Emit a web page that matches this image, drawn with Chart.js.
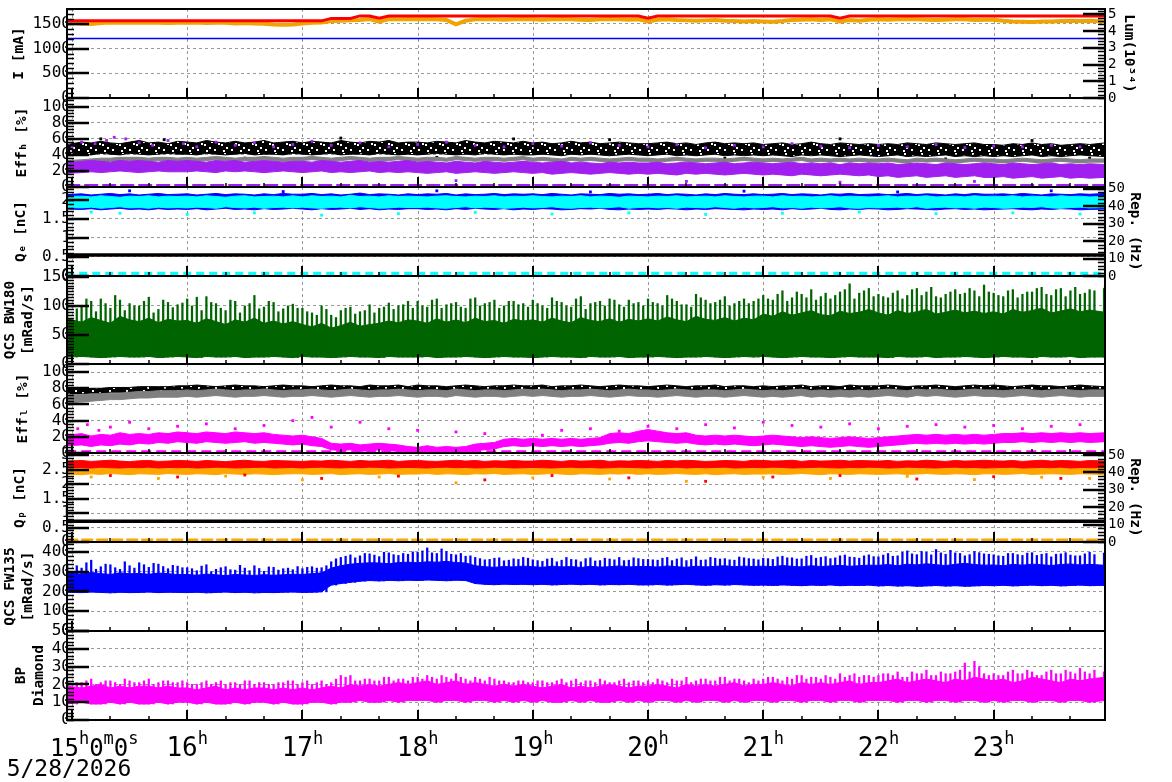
<!DOCTYPE html>
<html>
<head>
<meta charset="utf-8">
<title>Accelerator monitor 5/28/2026</title>
<script src="https://cdn.jsdelivr.net/npm/chart.js@4.4.1/dist/chart.umd.min.js"></script>
<style>
html,body{margin:0;padding:0;background:#ffffff;}
#page{position:relative;width:1172px;height:782px;overflow:hidden;background:#ffffff;}
#page canvas{position:absolute;left:0;}
</style>
</head>
<body>
<div id="page"></div>
<script>
// ---------------- time axis (minutes after 15:00) ----------------
const bins = [-2.5,5,10,15,20,25,30,35,40,45,50,55,
  60,65,70,75,80,85,90,95,100,105,110,115,
  120,125,130,135,140,145,150,155,160,165,170,175,
  180,185,190,195,200,205,210,215,220,225,230,235,
  240,245,250,255,260,265,270,275,280,285,290,295,
  300,305,310,315,320,325,330,335,340,345,350,355,
  360,365,370,375,380,385,390,395,400,405,410,415,
  420,425,430,435,440,445,450,455,460,465,470,475,
  480,485,490,495,500,505,510,515,520,525,530,538];
const binsHalf = [2.5,7.5,12.5,17.5,22.5,27.5,32.5,37.5,42.5,47.5,52.5,57.5,
  62.5,67.5,72.5,77.5,82.5,87.5,92.5,97.5,102.5,107.5,112.5,117.5,
  122.5,127.5,132.5,137.5,142.5,147.5,152.5,157.5,162.5,167.5,172.5,177.5,
  182.5,187.5,192.5,197.5,202.5,207.5,212.5,217.5,222.5,227.5,232.5,237.5,
  242.5,247.5,252.5,257.5,262.5,267.5,272.5,277.5,282.5,287.5,292.5,297.5,
  302.5,307.5,312.5,317.5,322.5,327.5,332.5,337.5,342.5,347.5,352.5,357.5,
  362.5,367.5,372.5,377.5,382.5,387.5,392.5,397.5,402.5,407.5,412.5,417.5,
  422.5,427.5,432.5,437.5,442.5,447.5,452.5,457.5,462.5,467.5,472.5,477.5,
  482.5,487.5,492.5,497.5,502.5,507.5,512.5,517.5,522.5,527.5,532.5,537.5];
const flatTimes = [-3,60,120,180,240,300,360,420,480,540];
const hourMarks = [0,60,120,180,240,300,360,420,480];
const hourLabels = ['15h0m0s','16h','17h','18h','19h','20h','21h','22h','23h'];
const dateLabel = '5/28/2026';

// ---------------- tick values ----------------
const iTicks = [0,500,1000,1500];
const lumTicks = [0,1,2,3,4,5];
const effTicks = [0,20,40,60,80,100];
const qeTicks = [0,0.5,1,1.5,2];
const repTicks = [0,10,20,30,40,50];
const bwTicks = [0,50,100,150];
const qpTicks = [0,0.5,1,1.5,2,2.5,3];
const fwTicks = [0,100,200,300,400];
const bpTicks = [0,10,20,30,40,50];

// ---------------- panel 1 : currents & luminosity ----------------
const lerCurrent = [1560,1560,1560,1560,1560,1560,1560,1560,1560,1560,1560,1560,
  1560,1560,1560,1560,1560,1560,1560,1560,1560,1560,1560,1560,
  1560,1560,1560,1610,1610,1610,1660,1660,1612,1660,1660,1660,
  1660,1660,1660,1660,1660,1660,1660,1660,1660,1660,1660,1660,
  1660,1660,1660,1660,1660,1660,1660,1660,1660,1660,1660,1660,
  1615,1660,1660,1660,1660,1660,1660,1660,1660,1660,1660,1660,
  1660,1660,1660,1660,1660,1660,1660,1660,1615,1660,1660,1660,
  1660,1660,1660,1660,1660,1660,1660,1660,1660,1660,1660,1660,
  1660,1660,1660,1660,1660,1660,1660,1660,1660,1660,1660,1660];
const herCurrent = [1205,1205,1205,1205,1205,1205,1205,1205,1205,1205];
const luminosity = [4.50,4.44,4.42,4.48,4.52,4.50,4.50,4.52,4.50,4.50,4.48,4.50,
  4.50,4.52,4.48,4.50,4.50,4.46,4.48,4.46,4.44,4.40,4.38,4.40,
  4.46,4.50,4.52,4.60,4.62,4.64,4.66,4.72,4.56,4.72,4.70,4.72,
  4.70,4.72,4.70,4.66,4.40,4.62,4.70,4.72,4.70,4.68,4.70,4.72,
  4.70,4.68,4.70,4.72,4.70,4.68,4.66,4.70,4.72,4.70,4.68,4.70,
  4.58,4.68,4.70,4.66,4.64,4.62,4.64,4.66,4.62,4.60,4.58,4.60,
  4.58,4.56,4.60,4.66,4.68,4.70,4.66,4.70,4.58,4.66,4.62,4.68,
  4.70,4.68,4.70,4.72,4.70,4.68,4.66,4.68,4.70,4.70,4.66,4.68,
  4.68,4.62,4.58,4.56,4.55,4.58,4.58,4.60,4.62,4.60,4.62,4.58];

// ---------------- panel 2 : Eff_H ----------------
const effHBlackLo = [39,41,40,42,41,40,42,41,40,41,42,41,
  41,40,42,41,40,41,42,40,41,41,40,42,
  41,40,41,42,40,41,41,40,42,41,40,41,
  40,41,42,41,40,41,40,42,41,40,41,40,
  40,41,40,39,41,40,41,40,39,40,41,40,
  39,40,41,39,40,39,40,41,39,40,39,40,
  39,40,39,38,40,39,40,39,38,39,40,39,
  38,39,40,38,39,38,39,40,38,39,38,39,
  38,39,38,39,40,38,39,38,39,40,39,38];
const effHBlackHi = [53,56,55,57,55,54,56,58,55,56,54,57,
  56,55,58,56,55,57,55,56,58,55,56,57,
  55,57,56,55,58,56,55,57,56,58,55,56,
  56,55,57,56,55,58,56,55,57,56,55,57,
  55,56,54,55,57,55,56,54,55,56,55,54,
  54,55,56,54,55,53,55,56,54,55,54,55,
  53,54,55,53,54,56,54,53,55,54,53,54,
  53,54,53,55,54,53,55,54,53,54,55,53,
  53,52,54,53,55,53,54,52,53,54,53,55];
const effHGrayLo = [27,29,30,31,32,32,33,33,32,33,33,32,
  33,32,33,34,33,32,33,33,34,33,32,33,
  33,34,33,32,33,34,33,32,33,33,34,33,
  32,33,33,32,34,33,32,33,33,32,33,34,
  32,33,32,31,33,32,33,32,31,32,33,32,
  32,31,32,33,32,31,32,32,31,32,33,32,
  31,32,31,32,33,31,32,31,32,31,32,31,
  31,32,31,30,32,31,32,31,30,31,32,31,
  31,30,31,32,31,30,31,32,31,30,31,31];
const effHGrayHi = [33,34,35,36,36,37,37,37,36,37,37,36,
  37,36,37,38,37,36,37,37,38,37,36,37,
  37,38,37,36,37,38,37,36,37,37,38,37,
  36,37,37,36,38,37,36,37,37,36,37,38,
  36,37,36,35,37,36,37,36,35,36,37,36,
  36,35,36,37,36,35,36,36,35,36,37,36,
  35,36,35,36,37,35,36,35,36,35,36,35,
  35,36,35,34,36,35,36,35,34,35,36,35,
  35,34,35,36,35,34,35,36,35,34,35,35];
const effHPurpleLo = [17,18,19,18,19,20,19,18,19,20,19,19,
  19,20,19,18,20,19,20,19,18,19,20,19,
  18,19,20,18,19,18,19,20,18,19,18,19,
  18,17,18,19,17,18,19,18,17,18,19,18,
  17,18,16,17,18,17,16,17,18,17,16,17,
  16,17,16,15,17,16,17,16,15,16,17,16,
  15,16,15,14,16,15,14,15,16,15,14,15,
  13,14,12,13,14,12,13,14,12,13,14,12,
  12,13,11,12,13,11,12,13,11,12,11,12];
const effHPurpleHi = [30,32,33,32,31,33,32,33,32,31,33,32,
  33,32,31,33,32,33,31,32,33,32,31,32,
  32,31,33,32,31,32,33,31,32,31,32,33,
  31,32,31,30,32,31,30,32,31,30,31,32,
  31,30,31,32,30,31,30,29,31,30,31,30,
  30,31,29,30,31,30,29,30,31,29,30,31,
  30,29,30,31,29,30,29,30,28,30,29,30,
  29,30,28,29,30,29,28,30,29,28,29,30,
  29,28,30,29,28,29,30,28,29,28,29,28];
const effHPurpleOutT = [0,5,12,18,22,28,35,42,50,58,65,75,85,95,105,115,125,135,150,165,180,195,210,225,240,255,270,285,300,315,330,345,360,375,390,405,420,435,450,465,480,495,510,525,200,320,400,470];
const effHPurpleOutV = [50,56,54,58,62,60,55,52,58,54,50,56,52,55,50,53,57,52,55,50,53,56,52,50,54,51,55,52,50,53,49,52,50,54,51,49,52,50,53,49,51,50,52,50,8,7,6,7];
const effHBlackOutT = [15,48,90,140,190,230,280,340,400,455,500,530];
const effHBlackOutV = [60,59,36,61,37,60,59,36,60,35,58,36];
const effHZero = [1.8,1.8,1.8,1.8,1.8,1.8,1.8,1.8,1.8,1.8];

// ---------------- panel 3 : Q_e & rep ----------------
const qeBlueLo = [1.76,1.75,1.77,1.74,1.76,1.78,1.75,1.76,1.74,1.77,1.75,1.76,
  1.75,1.77,1.74,1.76,1.78,1.75,1.76,1.74,1.77,1.75,1.76,1.78,
  1.76,1.74,1.77,1.75,1.76,1.78,1.75,1.77,1.74,1.76,1.75,1.77,
  1.77,1.75,1.76,1.74,1.77,1.75,1.78,1.76,1.75,1.77,1.74,1.76,
  1.75,1.77,1.76,1.74,1.75,1.77,1.76,1.78,1.75,1.74,1.76,1.75,
  1.76,1.75,1.77,1.76,1.74,1.76,1.75,1.77,1.76,1.75,1.74,1.76,
  1.75,1.76,1.74,1.77,1.75,1.76,1.78,1.75,1.74,1.76,1.75,1.77,
  1.76,1.74,1.75,1.77,1.76,1.75,1.74,1.76,1.77,1.75,1.76,1.74,
  1.75,1.76,1.77,1.75,1.74,1.76,1.75,1.77,1.76,1.74,1.75,1.76];
const qeBlueHi = [2.14,2.16,2.13,2.15,2.17,2.14,2.16,2.13,2.15,2.17,2.14,2.15,
  2.16,2.13,2.15,2.17,2.14,2.16,2.15,2.13,2.16,2.14,2.17,2.15,
  2.15,2.17,2.14,2.16,2.13,2.15,2.18,2.14,2.16,2.15,2.13,2.16,
  2.14,2.16,2.15,2.17,2.13,2.16,2.14,2.15,2.17,2.14,2.16,2.15,
  2.16,2.14,2.17,2.15,2.13,2.16,2.15,2.14,2.17,2.15,2.16,2.14,
  2.15,2.17,2.14,2.16,2.15,2.13,2.16,2.14,2.17,2.15,2.14,2.16,
  2.14,2.15,2.17,2.14,2.16,2.15,2.13,2.16,2.15,2.17,2.14,2.15,
  2.16,2.14,2.15,2.17,2.14,2.16,2.15,2.13,2.16,2.14,2.17,2.15,
  2.15,2.16,2.14,2.17,2.15,2.13,2.16,2.15,2.14,2.16,2.15,2.17];
const qeCyanLo = [1.80,1.79,1.81,1.78,1.80,1.82,1.79,1.80,1.78,1.81,1.79,1.80,
  1.79,1.81,1.80,1.78,1.82,1.80,1.79,1.81,1.78,1.80,1.81,1.79,
  1.81,1.79,1.78,1.80,1.81,1.79,1.82,1.80,1.78,1.79,1.81,1.80,
  1.80,1.81,1.79,1.78,1.80,1.82,1.79,1.81,1.80,1.78,1.79,1.81,
  1.79,1.80,1.82,1.79,1.78,1.80,1.81,1.79,1.80,1.82,1.78,1.80,
  1.81,1.79,1.80,1.78,1.81,1.80,1.79,1.82,1.80,1.78,1.81,1.79,
  1.80,1.82,1.79,1.80,1.78,1.81,1.79,1.80,1.82,1.79,1.78,1.80,
  1.79,1.80,1.81,1.79,1.82,1.78,1.80,1.81,1.79,1.80,1.78,1.81,
  1.80,1.78,1.79,1.81,1.80,1.82,1.79,1.78,1.80,1.81,1.79,1.80];
const qeCyanHi = [2.09,2.10,2.08,2.11,2.09,2.07,2.10,2.09,2.11,2.08,2.10,2.09,
  2.10,2.08,2.11,2.09,2.07,2.10,2.11,2.08,2.09,2.10,2.08,2.11,
  2.08,2.11,2.09,2.10,2.08,2.12,2.09,2.10,2.08,2.11,2.09,2.10,
  2.09,2.08,2.10,2.11,2.09,2.08,2.10,2.09,2.11,2.08,2.10,2.09,
  2.11,2.09,2.08,2.10,2.09,2.11,2.08,2.10,2.09,2.07,2.10,2.09,
  2.08,2.10,2.09,2.11,2.08,2.09,2.10,2.08,2.11,2.09,2.08,2.10,
  2.10,2.08,2.11,2.09,2.10,2.08,2.09,2.11,2.08,2.10,2.09,2.08,
  2.09,2.11,2.08,2.10,2.09,2.11,2.08,2.09,2.10,2.08,2.11,2.09,
  2.10,2.09,2.11,2.08,2.10,2.09,2.08,2.11,2.09,2.10,2.08,2.09];
const qeCyanOutT = [10,25,60,95,130,170,210,250,290,330,370,410,450,490,525];
const qeCyanOutV = [1.68,1.65,1.62,1.66,1.60,1.64,1.67,1.63,1.66,1.62,1.65,1.68,1.64,1.66,1.63];
const qeBlueOutT = [30,110,190,270,350,430,510];
const qeBlueOutV = [2.24,2.22,2.24,2.21,2.23,2.21,2.24];
const repE = [12,12,12,12,12,12,12,12,12,12];
const repECyan = [1.5,1.5,1.5,1.5,1.5,1.5,1.5,1.5,1.5,1.5];

// ---------------- panel 4 : QCS BW180 ----------------
const bwLo = [12,13,12,11,12,13,12,12,13,11,12,13,
  12,11,13,12,12,13,11,12,12,13,12,11,
  13,12,12,11,12,13,12,12,11,13,12,12,
  12,13,11,12,12,13,12,11,12,13,12,12,
  11,12,13,12,12,11,13,12,12,13,11,12,
  12,13,12,11,12,12,13,12,11,12,13,12,
  13,12,11,12,13,12,12,11,12,13,12,12,
  12,11,13,12,12,13,11,12,12,13,12,11,
  12,13,12,12,11,13,12,12,13,11,12,12];
const bwMid = [78,72,80,75,70,82,76,73,79,71,77,74,
  75,70,78,73,68,76,72,79,70,74,69,73,
  68,64,70,62,66,72,65,68,70,74,71,76,
  74,70,78,72,76,71,79,73,75,70,77,74,
  76,72,79,74,71,80,75,73,78,72,77,74,
  78,74,81,76,73,82,77,75,80,74,79,76,
  86,82,90,84,88,92,85,83,91,87,89,94,
  88,84,92,87,90,94,86,89,93,88,91,87,
  90,86,94,89,92,96,88,91,95,90,93,89];
const bwHi = [121,98,108,112,96,110,104,100,115,94,106,102,
  112,115,116,104,92,108,100,118,98,106,95,103,
  96,88,100,84,92,98,90,102,96,105,100,108,
  108,98,112,102,106,96,114,104,110,100,108,104,
  110,100,114,106,98,116,104,108,112,102,110,106,
  112,104,118,108,102,120,110,106,116,104,112,108,
  118,110,126,114,120,128,116,112,124,138,122,130,
  120,114,126,118,130,124,116,120,128,122,126,136,
  122,116,128,120,124,132,118,130,126,120,128,135];
const bwHiB = [95,112,90,104,118,92,100,108,88,110,97,105,
  100,92,106,96,110,88,104,95,108,90,100,96,
  90,84,94,80,96,86,92,88,98,94,102,96,
  100,110,96,104,98,112,100,106,96,108,102,98,
  104,96,108,100,112,94,106,100,110,98,104,100,
  106,100,112,102,98,114,104,110,100,108,104,112,
  112,120,108,124,114,110,122,118,128,112,126,116,
  116,122,112,128,118,132,114,124,120,130,116,124,
  118,126,114,124,130,120,128,116,132,122,126,130];

// ---------------- panel 5 : Eff_L ----------------
const effLBlackLo = [73,73,74,74,75,75,75,76,76,76,76,76,
  76,77,76,75,76,77,76,76,75,76,77,76,
  76,75,76,77,76,76,75,77,76,76,77,75,
  77,76,76,75,76,77,76,75,76,76,77,76,
  76,77,75,76,76,77,76,75,76,77,76,76,
  75,76,77,76,75,76,76,77,75,76,76,75,
  76,75,76,76,77,75,76,76,75,77,76,76,
  76,77,76,75,76,76,77,76,75,76,77,76,
  77,76,75,76,77,76,76,75,76,77,76,75];
const effLBlackHi = [79,79,80,80,81,81,81,82,82,82,82,83,
  83,84,83,82,83,84,83,83,82,83,84,83,
  83,82,83,84,83,83,82,84,83,83,84,82,
  84,83,83,82,83,84,83,82,83,83,84,83,
  83,84,82,83,83,84,83,82,83,84,83,83,
  82,83,84,83,82,83,83,84,82,83,83,82,
  83,82,83,83,84,82,83,83,82,84,83,83,
  83,84,83,82,83,83,84,83,82,83,84,83,
  84,83,82,83,84,83,83,82,83,84,83,82];
const effLGrayLo = [62,63,64,65,66,66,67,68,68,69,69,69,
  70,69,70,71,70,69,70,70,71,70,69,70,
  70,71,70,69,70,71,70,69,70,70,71,70,
  69,70,70,69,71,70,69,70,70,69,70,71,
  70,71,70,69,70,70,71,70,69,70,71,70,
  70,69,70,71,70,69,70,70,69,70,71,70,
  69,70,69,70,71,69,70,69,70,69,70,69,
  70,71,70,69,71,70,71,70,69,70,71,70,
  70,69,70,71,70,69,70,71,70,69,70,70];
const effLGrayHi = [71,72,73,73,74,74,75,76,76,77,77,77,
  78,77,78,79,78,77,78,78,79,78,77,78,
  78,79,78,77,78,79,78,77,78,78,79,78,
  77,78,78,77,79,78,77,78,78,77,78,79,
  78,79,78,77,78,78,79,78,77,78,79,78,
  78,77,78,79,78,77,78,78,77,78,79,78,
  77,78,77,78,79,77,78,77,78,77,78,77,
  78,79,78,77,79,78,79,78,77,78,79,78,
  78,77,78,79,78,77,78,79,78,77,78,78];
const effLMagLo = [9,10,8,10,9,11,10,12,11,
  13,12,14,13,12,14,13,12,13,14,12,13,12,
  11,10,11,9,8,
  4,3,4,2,3,4,3,2,
  1,0,1,0,1,0,1,
  3,4,5,
  8,9,8,9,8,9,8,9,8,9,10,
  12,13,12,14,15,14,13,12,13,
  11,10,11,10,11,10,9,10,11,10,9,
  8,9,8,7,8,9,8,7,8,9,10,
  11,12,11,12,11,12,11,12,11,12,13,
  13,14,13,14,13,14,13,14,13,14];
const effLMagHi = [22,24,21,23,22,25,23,24,23,
  25,24,26,25,24,26,25,24,26,25,24,25,23,
  22,21,22,20,18,
  12,11,12,10,11,12,11,10,
  8,7,9,7,8,7,8,
  11,12,13,
  17,18,17,18,17,18,17,18,17,18,19,
  24,25,24,27,29,27,25,24,25,
  22,21,22,21,22,21,20,21,22,21,20,
  19,20,19,18,19,20,19,18,19,20,21,
  22,23,22,23,22,23,22,23,22,23,24,
  24,25,24,25,24,25,24,25,24,25];
const effLMagOutT = [3,8,14,20,30,40,55,70,85,100,115,125,135,150,165,180,200,215,245,255,270,285,300,315,330,345,360,375,390,405,420,435,450,465,480,495,510,525];
const effLMagOutV = [30,35,28,32,38,30,33,36,30,34,40,44,32,38,30,28,26,24,22,28,30,27,33,30,35,31,38,34,32,36,30,33,35,32,34,30,33,35];
const effLZero = [1.5,1.5,1.5,1.5,1.5,1.5,1.5,1.5,1.5,1.5];

// ---------------- panel 6 : Q_p & rep ----------------
const qpOrangeLo = [2.35,2.33,2.36,2.34,2.37,2.35,2.33,2.36,2.35,2.34,2.37,2.35,
  2.34,2.36,2.35,2.33,2.37,2.35,2.34,2.36,2.35,2.33,2.35,2.36,
  2.36,2.34,2.35,2.37,2.33,2.35,2.36,2.34,2.35,2.37,2.34,2.35,
  2.35,2.37,2.34,2.36,2.35,2.33,2.36,2.35,2.37,2.34,2.35,2.36,
  2.34,2.35,2.37,2.35,2.33,2.36,2.35,2.34,2.36,2.35,2.37,2.34,
  2.36,2.34,2.35,2.37,2.35,2.34,2.36,2.33,2.35,2.36,2.34,2.35,
  2.35,2.36,2.34,2.35,2.37,2.35,2.33,2.36,2.35,2.34,2.36,2.35,
  2.34,2.35,2.36,2.34,2.35,2.37,2.35,2.34,2.36,2.35,2.33,2.36,
  2.36,2.34,2.35,2.37,2.34,2.35,2.36,2.35,2.34,2.36,2.35,2.34];
const qpOrangeHi = [2.58,2.57,2.59,2.58,2.60,2.57,2.58,2.59,2.57,2.58,2.60,2.58,
  2.57,2.59,2.58,2.60,2.57,2.58,2.59,2.58,2.57,2.59,2.58,2.60,
  2.59,2.57,2.58,2.60,2.58,2.57,2.59,2.58,2.60,2.57,2.58,2.59,
  2.58,2.60,2.57,2.58,2.59,2.57,2.58,2.60,2.58,2.57,2.59,2.58,
  2.57,2.58,2.60,2.58,2.57,2.59,2.58,2.60,2.57,2.58,2.59,2.58,
  2.59,2.58,2.57,2.60,2.58,2.59,2.57,2.58,2.60,2.58,2.57,2.59,
  2.58,2.59,2.58,2.57,2.60,2.58,2.59,2.57,2.58,2.60,2.58,2.57,
  2.57,2.58,2.60,2.58,2.59,2.57,2.58,2.60,2.58,2.57,2.59,2.58,
  2.58,2.57,2.59,2.60,2.58,2.57,2.58,2.59,2.57,2.58,2.60,2.58];
const qpRedLo = [2.57,2.58,2.56,2.59,2.57,2.56,2.58,2.57,2.59,2.56,2.58,2.57,
  2.58,2.56,2.57,2.59,2.58,2.56,2.57,2.58,2.59,2.56,2.57,2.58,
  2.56,2.58,2.59,2.57,2.56,2.58,2.57,2.59,2.58,2.56,2.57,2.58,
  2.57,2.56,2.58,2.59,2.57,2.58,2.56,2.57,2.59,2.58,2.56,2.57,
  2.58,2.57,2.56,2.58,2.59,2.57,2.58,2.56,2.57,2.59,2.58,2.57,
  2.56,2.58,2.57,2.59,2.56,2.58,2.57,2.58,2.59,2.56,2.57,2.58,
  2.57,2.59,2.58,2.56,2.57,2.58,2.59,2.57,2.56,2.58,2.57,2.59,
  2.58,2.56,2.57,2.59,2.58,2.57,2.56,2.58,2.59,2.57,2.58,2.56,
  2.57,2.58,2.59,2.56,2.57,2.58,2.57,2.59,2.56,2.58,2.57,2.58];
const qpRedHi = [2.80,2.82,2.79,2.81,2.83,2.80,2.78,2.81,2.82,2.79,2.80,2.82,
  2.81,2.79,2.82,2.80,2.78,2.81,2.83,2.80,2.79,2.82,2.81,2.80,
  2.79,2.81,2.80,2.83,2.81,2.79,2.82,2.80,2.81,2.83,2.79,2.81,
  2.82,2.80,2.79,2.81,2.83,2.80,2.82,2.79,2.81,2.80,2.82,2.80,
  2.80,2.83,2.81,2.79,2.82,2.80,2.81,2.83,2.79,2.81,2.80,2.82,
  2.81,2.79,2.82,2.80,2.83,2.81,2.79,2.80,2.82,2.81,2.79,2.83,
  2.82,2.80,2.81,2.83,2.79,2.82,2.80,2.81,2.83,2.80,2.82,2.81,
  2.80,2.82,2.79,2.81,2.80,2.83,2.81,2.79,2.82,2.80,2.81,2.83,
  2.81,2.80,2.82,2.79,2.81,2.83,2.80,2.82,2.81,2.79,2.82,2.80];
const qpRedOutT = [20,55,90,130,170,215,250,290,330,365,400,440,480,515];
const qpRedOutV = [2.30,2.25,2.32,2.20,2.28,2.15,2.30,2.22,2.10,2.25,2.30,2.18,2.26,2.20];
const qpOrangeOutT = [10,45,80,120,160,200,240,280,320,360,395,435,470,505,530];
const qpOrangeOutV = [2.25,2.20,2.28,2.15,2.25,2.05,2.22,2.18,2.10,2.24,2.20,2.27,2.16,2.24,2.20];
const repP = [12,12,12,12,12,12,12,12,12,12];
const repPOrange = [1,1,1,1,1,1,1,1,1,1];

// ---------------- panel 7 : QCS FW135 ----------------
const fwLo = [196,194,197,195,193,196,194,195,197,194,196,195,
  194,196,193,195,197,194,196,193,195,194,196,197,
  195,196,198,232,240,246,252,255,253,256,254,257,
  255,258,256,254,257,255,240,236,234,237,235,236,
  234,236,233,235,237,234,236,233,235,234,236,233,
  233,235,232,234,236,233,231,234,232,235,233,231,
  232,230,233,231,229,232,230,233,229,231,230,232,
  228,230,227,229,226,228,230,227,229,226,228,230,
  229,231,228,230,232,229,231,228,230,232,229,231];
const fwMid = [292,288,296,290,286,294,289,291,287,293,290,285,
  286,282,288,284,280,286,283,281,285,282,284,287,
  286,290,294,318,330,338,342,345,344,340,346,348,
  345,350,348,352,346,344,330,325,322,326,324,328,
  325,322,328,324,326,321,327,323,325,329,324,326,
  326,323,329,325,322,328,324,327,330,325,328,326,
  328,325,331,327,324,330,326,329,332,327,330,333,
  332,336,330,338,334,340,335,331,337,342,336,333,
  334,330,337,333,338,335,331,336,339,334,337,332];
const fwHi = [340,318,358,325,335,312,330,345,322,338,315,328,
  320,305,335,312,325,308,318,330,302,322,315,310,
  315,325,320,350,372,385,380,390,376,395,382,388,
  398,420,392,402,385,378,372,360,368,355,365,372,
  360,352,368,358,362,350,370,356,364,372,358,366,
  362,358,372,364,356,375,360,368,366,358,370,364,
  368,362,378,370,365,382,372,366,380,374,368,385,
  375,392,380,405,386,398,412,388,395,380,402,390,
  385,378,392,382,396,388,375,390,384,380,398,386];
const fwHiB = [330,345,312,338,320,350,318,335,342,326,332,320,
  315,328,300,320,310,332,305,316,324,308,318,326,
  322,318,330,365,378,370,392,384,398,386,392,400,
  405,395,415,388,392,380,366,362,370,358,362,368,
  356,364,350,372,360,366,354,368,360,356,370,362,
  360,368,356,370,362,358,372,364,360,374,366,360,
  366,374,370,364,378,368,376,370,384,372,380,376,
  384,378,398,390,402,385,395,408,392,386,396,388,
  380,392,386,394,382,392,388,396,380,390,386,394];

// ---------------- panel 8 : BP diamond ----------------
const bpLo = [9,10,9,9,10,9,10,9,9,10,9,10,
  10,9,10,9,9,10,9,10,10,9,10,9,
  9,10,10,9,10,10,11,10,10,11,10,11,
  11,11,10,11,11,10,11,11,10,11,10,11,
  10,11,10,10,11,10,11,10,10,11,10,11,
  10,11,11,10,11,10,11,11,10,11,10,11,
  11,10,11,11,10,11,11,10,11,11,10,11,
  11,11,10,11,11,10,11,11,10,11,11,10,
  11,10,11,11,10,11,11,10,11,11,10,11];
const bpMid = [19,18,19,20,18,19,18,19,19,18,19,18,
  18,17,18,19,17,18,17,18,18,17,18,17,
  18,17,18,19,18,20,19,20,19,20,21,20,
  21,22,20,21,22,20,21,20,19,20,19,20,
  19,18,19,20,18,19,18,19,20,19,18,19,
  19,20,19,18,20,19,20,19,20,21,19,20,
  20,21,20,19,21,20,21,20,21,22,20,21,
  21,22,23,21,22,23,22,21,23,22,24,23,
  22,23,21,22,24,23,22,21,23,22,23,24];
const bpHi = [22,21,23,21,22,20,22,21,23,21,22,21,
  21,20,22,21,20,21,22,20,21,20,21,22,
  21,20,22,21,25,25,22,23,22,24,23,22,
  24,25,23,24,26,23,24,22,23,22,21,22,
  21,22,21,23,22,21,22,23,21,22,21,22,
  22,23,21,22,24,22,23,22,24,23,22,23,
  23,24,22,23,25,24,23,24,26,25,24,25,
  25,26,27,24,26,28,25,26,27,32,33,26,
  26,25,28,26,27,25,28,26,27,29,26,31];
const bpHiB = [21,22,20,22,21,23,21,22,20,22,21,22,
  20,21,20,22,21,20,22,21,20,21,22,20,
  22,21,20,23,24,22,23,22,24,22,23,24,
  23,24,25,23,24,22,23,24,22,21,22,21,
  22,21,22,21,23,22,21,22,21,23,22,21,
  21,22,23,22,21,23,22,24,22,23,21,22,
  24,23,24,25,23,24,25,23,24,26,25,24,
  26,25,24,27,26,25,27,26,28,27,30,25,
  25,27,26,28,25,27,26,28,26,27,28,27];

// ---------------- helpers that turn the arrays into datasets ----------------
const xy = (ts, vs) => ts.map((t, i) => ({x: t, y: vs[i]}));
function lineDs(ts, vs, color, width, axis, dash) {
  return {type: 'line', data: xy(ts, vs), borderColor: color, borderWidth: width,
    pointRadius: 0, fill: false, tension: 0, yAxisID: axis || 'y', borderDash: dash || [],
    borderCapStyle: 'butt'};
}
function bandDs(lo, hi, color, axis, fillStyle) {
  return [
    {type: 'line', data: xy(bins, lo), borderColor: color, borderWidth: 1, pointRadius: 0,
      fill: false, tension: 0, yAxisID: axis || 'y'},
    {type: 'line', data: xy(bins, hi), borderColor: color, borderWidth: 1, pointRadius: 0,
      backgroundColor: fillStyle || color, fill: '-1', tension: 0, yAxisID: axis || 'y'}
  ];
}
function spikeDs(ts, lo, hi, color, axis) {
  return {type: 'bar', data: ts.map((t, i) => ({x: t, y: [lo[i], hi[i]]})),
    backgroundColor: color, borderWidth: 0, barThickness: 1.6, grouped: false, yAxisID: axis || 'y'};
}
function dotDs(ts, vs, color, axis, r) {
  return {type: 'scatter', data: xy(ts, vs), pointStyle: 'rect', pointRadius: r || 1.7,
    backgroundColor: color, borderWidth: 0, showLine: false, yAxisID: axis || 'y'};
}
// speckled fill (style only): solid colour with a few white gaps, like a dense cloud of markers
const GAP_CELLS = [[3,1],[11,3],[7,6],[0,9],[14,8],[5,12],[10,14],[2,15]];
function speckle(color) {
  const c = document.createElement('canvas'); c.width = 17; c.height = 17;
  const g = c.getContext('2d'); g.fillStyle = color; g.fillRect(0, 0, 17, 17);
  GAP_CELLS.forEach(([x, y]) => g.clearRect(x, y, 2, 2));
  return g.createPattern(c, 'repeat');
}

// colours
const RED = '#ff0000', ORANGE = '#ffa500', LUMOR = '#f0a400', BLUE = '#0000ff', BLACK = '#000000',
  GRAY = '#808080', PURPLE = '#a020f0', CYAN = '#00ffff', GREEN = '#006400', MAGENTA = '#ff00ff';

// ---------------- panels ----------------
const MONO = "'DejaVu Sans Mono', 'Liberation Mono', monospace";
const panels = [
  {top: 9, bottom: 98,
   left: {min: 0, max: 1800, ticks: iTicks, minor: 5, title: 'I [mA]', tpad: 10.3},
   right: {min: 0, max: 5.32, ticks: lumTicks, minor: 5, title: 'Lum(10³⁴)', tpad: 34.3},
   datasets: () => [
     lineDs(flatTimes, herCurrent, BLUE, 1.5),
     lineDs(bins, luminosity, LUMOR, 4, 'y2'),
     lineDs(bins, lerCurrent, RED, 3)
   ]},
  {top: 98, bottom: 187,
   left: {min: 0, max: 111, ticks: effTicks, minor: 5, title: 'Effₕ [%]', tpad: 13.8},
   datasets: () => [
     ...bandDs(effHBlackLo, effHBlackHi, BLACK, 'y', speckle(BLACK)),
     dotDs(effHBlackOutT, effHBlackOutV, BLACK, 'y', 2),
     ...bandDs(effHGrayLo, effHGrayHi, GRAY),
     ...bandDs(effHPurpleLo, effHPurpleHi, PURPLE),
     dotDs(effHPurpleOutT, effHPurpleOutV, PURPLE, 'y', 2),
     lineDs(flatTimes, effHZero, PURPLE, 3, 'y', [14, 4])
   ]},
  {top: 187, bottom: 276,
   left: {min: 0, max: 2.34, ticks: qeTicks, minor: 5, title: 'Qₑ [nC]', tpad: 12.3},
   right: {min: 0, max: 51, ticks: repTicks, minor: 5, title: 'Rep. (Hz)', tpad: 28.3},
   datasets: () => [
     ...bandDs(qeBlueLo, qeBlueHi, BLUE),
     dotDs(qeBlueOutT, qeBlueOutV, BLUE, 'y', 2),
     ...bandDs(qeCyanLo, qeCyanHi, CYAN),
     dotDs(qeCyanOutT, qeCyanOutV, CYAN, 'y', 2),
     lineDs(flatTimes, repE, BLACK, 3.5, 'y2'),
     lineDs(flatTimes, repECyan, CYAN, 3.5, 'y2', [8, 5])
   ]},
  {top: 276, bottom: 364,
   left: {min: 0, max: 151.5, ticks: bwTicks, minor: 10, title: ['QCS BW180', '[mRad/s]'], tpad: 1.8},
   datasets: () => [
     ...bandDs(bwLo, bwMid, GREEN),
     spikeDs(bins, bwLo, bwHi, GREEN),
     spikeDs(binsHalf, bwLo, bwHiB, GREEN)
   ]},
  {top: 364, bottom: 453,
   left: {min: 0, max: 110, ticks: effTicks, minor: 5, title: 'Effₗ [%]', tpad: 14.3},
   datasets: () => [
     ...bandDs(effLBlackLo, effLBlackHi, BLACK, 'y', speckle(BLACK)),
     ...bandDs(effLGrayLo, effLGrayHi, GRAY),
     ...bandDs(effLMagLo, effLMagHi, MAGENTA),
     dotDs(effLMagOutT, effLMagOutV, MAGENTA, 'y', 2),
     lineDs(flatTimes, effLZero, MAGENTA, 3, 'y', [10, 5])
   ]},
  {top: 453, bottom: 542,
   left: {min: 0, max: 3.08, ticks: qpTicks, minor: 5, title: 'Qₚ [nC]', tpad: 11.3},
   right: {min: 0, max: 51.2, ticks: repTicks, minor: 5, title: 'Rep. (Hz)', tpad: 28.3},
   datasets: () => [
     ...bandDs(qpOrangeLo, qpOrangeHi, ORANGE),
     dotDs(qpOrangeOutT, qpOrangeOutV, ORANGE, 'y', 2),
     ...bandDs(qpRedLo, qpRedHi, RED),
     dotDs(qpRedOutT, qpRedOutV, RED, 'y', 2),
     lineDs(flatTimes, repP, BLACK, 3.5, 'y2'),
     lineDs(flatTimes, repPOrange, ORANGE, 3.5, 'y2', [12, 3])
   ]},
  {top: 542, bottom: 631,
   left: {min: 0, max: 450, ticks: fwTicks, minor: 5, title: ['QCS FW135', '[mRad/s]'], tpad: 1.8},
   datasets: () => [
     ...bandDs(fwLo, fwMid, BLUE),
     spikeDs(bins, fwLo, fwHi, BLUE),
     spikeDs(binsHalf, fwLo, fwHiB, BLUE)
   ]},
  {top: 631, bottom: 720,
   left: {min: 0, max: 50, ticks: bpTicks, minor: 5, title: ['BP', 'Diamond'], tpad: 13},
   datasets: () => [
     ...bandDs(bpLo, bpMid, MAGENTA),
     spikeDs(bins, bpLo, bpHi, MAGENTA),
     spikeDs(binsHalf, bpLo, bpHiB, MAGENTA)
   ]}
];

// ---------------- frame / inner tick / time-label plugin ----------------
const X_MIN = -2.6, X_MAX = 538;
function drawSupText(ctx, text, x, baseline, align, mainPx, supPx, rise) {
  const runs = text.match(/[0-9/]+|[a-z]+/g).map(s => ({s, sup: /[a-z]/.test(s)}));
  let total = 0;
  runs.forEach(r => {
    ctx.font = (r.sup ? supPx : mainPx) + 'px ' + MONO;
    r.w = ctx.measureText(r.s).width; total += r.w;
  });
  let cx = align === 'center' ? x - total / 2 : x;
  ctx.textAlign = 'left'; ctx.textBaseline = 'alphabetic';
  runs.forEach(r => {
    ctx.font = (r.sup ? supPx : mainPx) + 'px ' + MONO;
    ctx.fillText(r.s, cx, r.sup ? baseline - rise : baseline);
    cx += r.w;
  });
}
const framePlugin = {
  id: 'frame',
  beforeDatasetsDraw(chart) {
    const {ctx, chartArea: a, scales} = chart;
    ctx.save();
    ctx.strokeStyle = '#999999';
    ctx.lineWidth = 1;
    ctx.setLineDash([3, 3]);
    hourMarks.forEach(h => {
      const px = Math.round(scales.x.getPixelForValue(h)) + 0.5;
      ctx.beginPath(); ctx.moveTo(px, a.top); ctx.lineTo(px, a.bottom); ctx.stroke();
    });
    ctx.restore();
  },
  afterDatasetsDraw(chart, args, opts) {
    const {ctx, chartArea: a, scales} = chart;
    ctx.save();
    ctx.setLineDash([]);
    ctx.strokeStyle = '#000';
    const yTicks = (sc, side, div) => {
      if (!sc) return;
      const maj = sc.ticks.map(t => t.value);
      const step = (maj[1] - maj[0]) / div;
      const x0 = side === 'left' ? a.left : a.right;
      const dir = side === 'left' ? 1 : -1;
      ctx.lineWidth = 1.5;
      for (let v = maj[0]; v <= sc.max + 1e-9; v += step) {
        const y = Math.round(sc.getPixelForValue(v)) + 0.5;
        ctx.beginPath(); ctx.moveTo(x0, y); ctx.lineTo(x0 + dir * 7, y); ctx.stroke();
      }
      ctx.lineWidth = 2.5;
      maj.forEach(v => {
        if (v > sc.max) return;
        const y = Math.round(sc.getPixelForValue(v));
        ctx.beginPath(); ctx.moveTo(x0, y); ctx.lineTo(x0 + dir * 22, y); ctx.stroke();
      });
    };
    yTicks(scales.y, 'left', opts.leftMinor);
    yTicks(scales.y2, 'right', opts.rightMinor);
    for (let m = 0; m <= X_MAX; m += 20) {
      const major = m % 60 === 0;
      const px = Math.round(scales.x.getPixelForValue(m));
      ctx.lineWidth = major ? 2 : 1.5;
      ctx.beginPath(); ctx.moveTo(px, a.bottom); ctx.lineTo(px, a.bottom - (major ? 10 : 4)); ctx.stroke();
    }
    ctx.lineWidth = 2;
    ctx.strokeRect(a.left, a.top, a.right - a.left, a.bottom - a.top);
    ctx.restore();
  },
  afterDraw(chart, args, opts) {
    if (!opts.timeLabels) return;
    const {ctx, chartArea: a, scales} = chart;
    ctx.save();
    ctx.fillStyle = '#000';
    hourMarks.forEach((h, i) => {
      const px = scales.x.getPixelForValue(h);
      if (i === 0) drawSupText(ctx, hourLabels[i], px - 22, a.bottom + 36, 'left', 24, 17, 12);
      else drawSupText(ctx, hourLabels[i], px, a.bottom + 36, 'center', 26, 17, 12);
    });
    ctx.font = '23px ' + MONO;
    ctx.textAlign = 'center'; ctx.textBaseline = 'alphabetic';
    ctx.fillText(dateLabel, scales.x.getPixelForValue(hourMarks[0]) - 3, a.bottom + 56);
    ctx.restore();
  }
};

// ---------------- build charts ----------------
const PAD = 14;
const page = document.getElementById('page');
panels.forEach((p, idx) => {
  const isLast = idx === panels.length - 1;
  const top = p.top - PAD;
  const h = isLast ? (782 - top) : (p.bottom - p.top + 2 * PAD);
  const cv = document.createElement('canvas');
  cv.width = 1172; cv.height = h;
  cv.style.width = '1172px'; cv.style.height = h + 'px';
  cv.style.top = top + 'px';
  page.appendChild(cv);

  const yAxis = (ax, pos) => ({
    type: 'linear', position: pos, min: ax.min, max: ax.max,
    afterBuildTicks: s => { s.ticks = ax.ticks.map(v => ({value: v})); },
    afterFit: s => { s.width = 67; },
    grid: pos === 'left' ? {display: true, color: '#999999', lineWidth: 1, drawTicks: false}
                         : {display: false, drawTicks: false},
    border: {display: false, dash: [3, 3]},
    ticks: {color: '#000', padding: pos === 'left' ? -4 : 3, autoSkip: false,
      font: {family: MONO, size: pos === 'left' ? 16 : 14},
      callback: v => String(v)},
    title: {display: true, text: ax.title, color: '#000',
      font: {family: MONO, size: 14.5, weight: 'bold', lineHeight: 1.2},
      padding: {top: ax.tpad, bottom: 0}}
  });

  const scales = {
    x: {type: 'linear', min: X_MIN, max: X_MAX, offset: false, display: false},
    y: yAxis(p.left, 'left')
  };
  if (p.right) scales.y2 = yAxis(p.right, 'right');

  const ds = p.datasets();
  ds.forEach((d, i) => { d.order = ds.length - i; });

  new Chart(cv, {
    type: 'line',
    data: {datasets: ds},
    options: {
      responsive: false, animation: false, devicePixelRatio: 1, events: [],
      layout: {padding: {top: PAD, bottom: isLast ? 62 : PAD, left: 0, right: p.right ? 0 : 67}},
      plugins: {legend: {display: false}, tooltip: {enabled: false},
        frame: {leftMinor: p.left.minor, rightMinor: p.right ? p.right.minor : 5, timeLabels: isLast}},
      scales
    },
    plugins: [framePlugin]
  });
});
</script>
</body>
</html>
